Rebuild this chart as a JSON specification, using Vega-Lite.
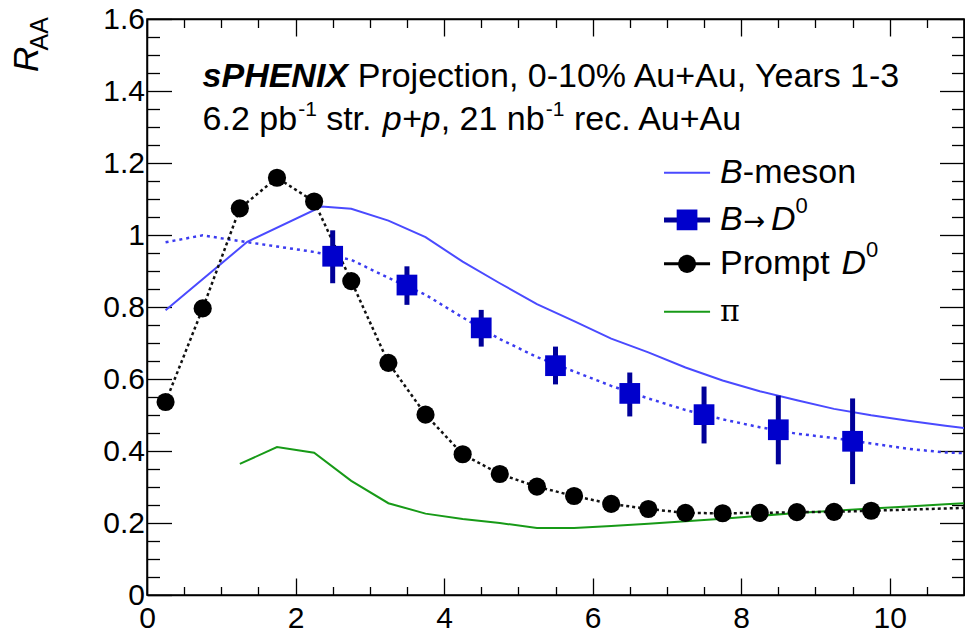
{
  "$schema": "https://vega.github.io/schema/vega-lite/v6.json",
  "width": 817,
  "height": 576,
  "autosize": {"type": "none"},
  "padding": {"left": 147, "top": 19, "right": 1, "bottom": 38},
  "background": "white",
  "config": {"view": {"stroke": "black", "strokeWidth": 1.5}, "font": "Liberation Sans"},
  "datasets": {
    "one": [{}],
    "prompt": [
      {"x": 0.25, "v": 0.536}, {"x": 0.75, "v": 0.796}, {"x": 1.25, "v": 1.074}, {"x": 1.75, "v": 1.159},
      {"x": 2.25, "v": 1.093}, {"x": 2.75, "v": 0.872}, {"x": 3.25, "v": 0.645}, {"x": 3.75, "v": 0.501},
      {"x": 4.25, "v": 0.391}, {"x": 4.75, "v": 0.336}, {"x": 5.25, "v": 0.301}, {"x": 5.75, "v": 0.275},
      {"x": 6.25, "v": 0.253}, {"x": 6.75, "v": 0.239}, {"x": 7.25, "v": 0.228}, {"x": 7.75, "v": 0.227},
      {"x": 8.25, "v": 0.228}, {"x": 8.75, "v": 0.23}, {"x": 9.25, "v": 0.231}, {"x": 9.75, "v": 0.234}
    ],
    "promptCurve": [
      {"x": 0.25, "v": 0.536}, {"x": 0.75, "v": 0.796}, {"x": 1.25, "v": 1.074}, {"x": 1.75, "v": 1.159},
      {"x": 2.25, "v": 1.093}, {"x": 2.75, "v": 0.872}, {"x": 3.25, "v": 0.645}, {"x": 3.75, "v": 0.501},
      {"x": 4.25, "v": 0.391}, {"x": 4.75, "v": 0.336}, {"x": 5.25, "v": 0.301}, {"x": 5.75, "v": 0.275},
      {"x": 6.25, "v": 0.253}, {"x": 6.75, "v": 0.239}, {"x": 7.25, "v": 0.228}, {"x": 7.75, "v": 0.227},
      {"x": 8.25, "v": 0.228}, {"x": 8.75, "v": 0.23}, {"x": 9.25, "v": 0.231}, {"x": 9.75, "v": 0.234},
      {"x": 11, "v": 0.242}
    ],
    "bd": [
      {"x": 2.5, "v": 0.941, "lo": 0.866, "hi": 1.013},
      {"x": 3.5, "v": 0.861, "lo": 0.806, "hi": 0.913},
      {"x": 4.5, "v": 0.742, "lo": 0.69, "hi": 0.792},
      {"x": 5.5, "v": 0.637, "lo": 0.585, "hi": 0.69},
      {"x": 6.5, "v": 0.56, "lo": 0.496, "hi": 0.618},
      {"x": 7.5, "v": 0.501, "lo": 0.421, "hi": 0.579},
      {"x": 8.5, "v": 0.459, "lo": 0.363, "hi": 0.554},
      {"x": 9.5, "v": 0.427, "lo": 0.308, "hi": 0.546}
    ],
    "bdCurve": [
      {"x": 0.25, "v": 0.98}, {"x": 0.75, "v": 0.999}, {"x": 1.25, "v": 0.983}, {"x": 1.75, "v": 0.968},
      {"x": 2.25, "v": 0.953}, {"x": 2.75, "v": 0.931}, {"x": 3.25, "v": 0.881}, {"x": 3.75, "v": 0.834},
      {"x": 4.25, "v": 0.771}, {"x": 4.75, "v": 0.711}, {"x": 5.25, "v": 0.661}, {"x": 5.75, "v": 0.621},
      {"x": 6.25, "v": 0.581}, {"x": 6.75, "v": 0.546}, {"x": 7.25, "v": 0.514}, {"x": 7.75, "v": 0.488},
      {"x": 8.25, "v": 0.466}, {"x": 8.75, "v": 0.448}, {"x": 9.25, "v": 0.436}, {"x": 9.75, "v": 0.421},
      {"x": 10.25, "v": 0.406}, {"x": 10.75, "v": 0.396}, {"x": 11, "v": 0.394}
    ],
    "bmeson": [
      {"x": 0.25, "v": 0.791}, {"x": 1.35, "v": 0.981}, {"x": 2.35, "v": 1.079}, {"x": 2.75, "v": 1.073},
      {"x": 3.25, "v": 1.04}, {"x": 3.75, "v": 0.994}, {"x": 4.25, "v": 0.926}, {"x": 4.75, "v": 0.866},
      {"x": 5.25, "v": 0.808}, {"x": 5.75, "v": 0.761}, {"x": 6.25, "v": 0.712}, {"x": 6.75, "v": 0.674},
      {"x": 7.25, "v": 0.632}, {"x": 7.75, "v": 0.596}, {"x": 8.25, "v": 0.566}, {"x": 8.75, "v": 0.541},
      {"x": 9.25, "v": 0.517}, {"x": 9.75, "v": 0.499}, {"x": 10.25, "v": 0.484}, {"x": 10.75, "v": 0.47},
      {"x": 11, "v": 0.464}
    ],
    "pion": [
      {"x": 1.25, "v": 0.364}, {"x": 1.75, "v": 0.411}, {"x": 2.25, "v": 0.395}, {"x": 2.75, "v": 0.317},
      {"x": 3.25, "v": 0.255}, {"x": 3.75, "v": 0.226}, {"x": 4.25, "v": 0.211}, {"x": 4.75, "v": 0.2},
      {"x": 5.25, "v": 0.186}, {"x": 5.75, "v": 0.186}, {"x": 6.25, "v": 0.192}, {"x": 6.75, "v": 0.198},
      {"x": 7.25, "v": 0.205}, {"x": 7.75, "v": 0.212}, {"x": 8.25, "v": 0.22}, {"x": 8.75, "v": 0.228},
      {"x": 9.25, "v": 0.234}, {"x": 9.75, "v": 0.24}, {"x": 10.25, "v": 0.246}, {"x": 10.75, "v": 0.252},
      {"x": 11, "v": 0.255}
    ]
  },
  "resolve": {"axis": {"x": "independent", "y": "independent"}},
  "layer": [
    {
      "data": {"name": "bmeson"},
      "mark": {"type": "line", "color": "#4a4aff", "strokeWidth": 2, "clip": true},
      "encoding": {
        "x": {"field": "x", "type": "quantitative", "scale": {"domain": [0, 11], "nice": false, "zero": false},
          "axis": {"orient": "bottom", "values": [0,0.5,1,1.5,2,2.5,3,3.5,4,4.5,5,5.5,6,6.5,7,7.5,8,8.5,9,9.5,10,10.5,11],
            "tickSize": {"condition": {"test": "datum.value % 2 === 0", "value": -17}, "value": -8.5},
            "labelExpr": "datum.value % 2 === 0 ? datum.label : ''", "format": "~g",
            "labelFont": "Liberation Sans", "labelFontSize": 30, "labelColor": "black", "labelPadding": 25,
            "labelOverlap": false, "labelFlush": false, "labelBound": false,
            "tickColor": "black", "tickWidth": 1.3, "domainColor": "black", "domainWidth": 1.5, "grid": false, "title": null}},
        "y": {"field": "v", "type": "quantitative", "scale": {"domain": [0, 1.6], "nice": false, "zero": false},
          "axis": {"orient": "left", "values": [0,0.05,0.1,0.15,0.2,0.25,0.3,0.35,0.4,0.45,0.5,0.55,0.6,0.65,0.7,0.75,0.8,0.85,0.9,0.95,1,1.05,1.1,1.15,1.2,1.25,1.3,1.35,1.4,1.45,1.5,1.55,1.6],
            "tickSize": {"condition": {"test": "abs(datum.value*5 - round(datum.value*5)) < 0.01", "value": -24.5}, "value": -12.5},
            "labelExpr": "abs(datum.value*5 - round(datum.value*5)) < 0.01 ? datum.label : ''", "format": "~g",
            "labelFont": "Liberation Sans", "labelFontSize": 30, "labelColor": "black", "labelPadding": 27,
            "labelOverlap": false, "labelFlush": false, "labelBound": false,
            "tickColor": "black", "tickWidth": 1.3, "domainColor": "black", "domainWidth": 1.5, "grid": false, "title": null}}
      }
    },
    {
      "data": {"name": "pion"},
      "mark": {"type": "line", "color": "#179a17", "strokeWidth": 2, "clip": true},
      "encoding": {
        "x": {"field": "x", "type": "quantitative",
          "axis": {"orient": "top", "values": [0,0.5,1,1.5,2,2.5,3,3.5,4,4.5,5,5.5,6,6.5,7,7.5,8,8.5,9,9.5,10,10.5,11],
            "tickSize": {"condition": {"test": "datum.value % 2 === 0", "value": -17}, "value": -8.5},
            "labels": false, "tickColor": "black", "tickWidth": 1.3, "domainColor": "black", "domainWidth": 1.5, "grid": false, "title": null}},
        "y": {"field": "v", "type": "quantitative",
          "axis": {"orient": "right", "values": [0,0.05,0.1,0.15,0.2,0.25,0.3,0.35,0.4,0.45,0.5,0.55,0.6,0.65,0.7,0.75,0.8,0.85,0.9,0.95,1,1.05,1.1,1.15,1.2,1.25,1.3,1.35,1.4,1.45,1.5,1.55,1.6],
            "tickSize": {"condition": {"test": "abs(datum.value*5 - round(datum.value*5)) < 0.01", "value": -24.5}, "value": -12.5},
            "labels": false, "tickColor": "black", "tickWidth": 1.3, "domainColor": "black", "domainWidth": 1.5, "grid": false, "title": null}}
      }
    },
    {
      "data": {"name": "bdCurve"},
      "mark": {"type": "line", "color": "#3b3bf0", "strokeWidth": 2.5, "strokeDash": [3, 4], "clip": true},
      "encoding": {"x": {"field": "x", "type": "quantitative", "axis": null}, "y": {"field": "v", "type": "quantitative", "axis": null}}
    },
    {
      "data": {"name": "promptCurve"},
      "mark": {"type": "line", "color": "#111111", "strokeWidth": 2.5, "strokeDash": [3, 3], "clip": true},
      "encoding": {"x": {"field": "x", "type": "quantitative", "axis": null}, "y": {"field": "v", "type": "quantitative", "axis": null}}
    },
    {
      "data": {"name": "bd"},
      "mark": {"type": "rule", "color": "#000099", "strokeWidth": 5},
      "encoding": {"x": {"field": "x", "type": "quantitative", "axis": null}, "y": {"field": "lo", "type": "quantitative", "axis": null}, "y2": {"field": "hi"}}
    },
    {
      "data": {"name": "bd"},
      "mark": {"type": "point", "shape": "square", "filled": true, "color": "#0000cc", "size": 430, "opacity": 1},
      "encoding": {"x": {"field": "x", "type": "quantitative", "axis": null}, "y": {"field": "v", "type": "quantitative", "axis": null}}
    },
    {
      "data": {"name": "prompt"},
      "mark": {"type": "point", "shape": "circle", "filled": true, "color": "black", "size": 330, "opacity": 1},
      "encoding": {"x": {"field": "x", "type": "quantitative", "axis": null}, "y": {"field": "v", "type": "quantitative", "axis": null}}
    },
    {
      "data": {"name": "one"},
      "mark": {"type": "text", "text": "sPHENIX", "font": "Liberation Sans", "fontSize": 34, "fontStyle": "italic", "fontWeight": "bold", "align": "left", "baseline": "alphabetic", "color": "black"},
      "encoding": {"x": {"datum": 0.748, "type": "quantitative", "axis": null}, "y": {"datum": 1.412, "type": "quantitative", "axis": null}}
    },
    {
      "data": {"name": "one"},
      "mark": {"type": "text", "text": "Projection, 0-10% Au+Au, Years 1-3", "font": "Liberation Sans", "fontSize": 34, "align": "left", "baseline": "alphabetic", "color": "black"},
      "encoding": {"x": {"datum": 2.837, "type": "quantitative", "axis": null}, "y": {"datum": 1.412, "type": "quantitative", "axis": null}}
    },
    {
      "data": {"name": "one"},
      "mark": {"type": "text", "text": "6.2 pb", "font": "Liberation Sans", "fontSize": 34, "align": "left", "baseline": "alphabetic", "color": "black"},
      "encoding": {"x": {"datum": 0.748, "type": "quantitative", "axis": null}, "y": {"datum": 1.292, "type": "quantitative", "axis": null}}
    },
    {
      "data": {"name": "one"},
      "mark": {"type": "text", "text": "-1", "font": "Liberation Sans", "fontSize": 21, "align": "left", "baseline": "alphabetic", "color": "black"},
      "encoding": {"x": {"datum": 2.035, "type": "quantitative", "axis": null}, "y": {"datum": 1.331, "type": "quantitative", "axis": null}}
    },
    {
      "data": {"name": "one"},
      "mark": {"type": "text", "text": "str.", "font": "Liberation Sans", "fontSize": 34, "align": "left", "baseline": "alphabetic", "color": "black"},
      "encoding": {"x": {"datum": 2.412, "type": "quantitative", "axis": null}, "y": {"datum": 1.292, "type": "quantitative", "axis": null}}
    },
    {
      "data": {"name": "one"},
      "mark": {"type": "text", "text": "p+p", "font": "Liberation Sans", "fontSize": 34, "fontStyle": "italic", "align": "left", "baseline": "alphabetic", "color": "black"},
      "encoding": {"x": {"datum": 3.174, "type": "quantitative", "axis": null}, "y": {"datum": 1.292, "type": "quantitative", "axis": null}}
    },
    {
      "data": {"name": "one"},
      "mark": {"type": "text", "text": ", 21 nb", "font": "Liberation Sans", "fontSize": 34, "align": "left", "baseline": "alphabetic", "color": "black"},
      "encoding": {"x": {"datum": 3.954, "type": "quantitative", "axis": null}, "y": {"datum": 1.292, "type": "quantitative", "axis": null}}
    },
    {
      "data": {"name": "one"},
      "mark": {"type": "text", "text": "-1", "font": "Liberation Sans", "fontSize": 21, "align": "left", "baseline": "alphabetic", "color": "black"},
      "encoding": {"x": {"datum": 5.369, "type": "quantitative", "axis": null}, "y": {"datum": 1.331, "type": "quantitative", "axis": null}}
    },
    {
      "data": {"name": "one"},
      "mark": {"type": "text", "text": "rec. Au+Au", "font": "Liberation Sans", "fontSize": 34, "align": "left", "baseline": "alphabetic", "color": "black"},
      "encoding": {"x": {"datum": 5.748, "type": "quantitative", "axis": null}, "y": {"datum": 1.292, "type": "quantitative", "axis": null}}
    },
    {
      "data": {"name": "one"},
      "mark": {"type": "text", "text": "R", "font": "Liberation Sans", "fontSize": 35, "fontStyle": "italic", "angle": 270, "align": "center", "baseline": "middle", "color": "black"},
      "encoding": {"x": {"datum": -1.617, "type": "quantitative", "axis": null}, "y": {"datum": 1.488, "type": "quantitative", "axis": null}}
    },
    {
      "data": {"name": "one"},
      "mark": {"type": "text", "text": "AA", "font": "Liberation Sans", "fontSize": 25, "angle": 270, "align": "center", "baseline": "middle", "color": "black"},
      "encoding": {"x": {"datum": -1.435, "type": "quantitative", "axis": null}, "y": {"datum": 1.559, "type": "quantitative", "axis": null}}
    },
    {
      "data": {"name": "one"},
      "mark": {"type": "rule", "color": "#4a4aff", "strokeWidth": 2},
      "encoding": {"x": {"datum": 6.961, "type": "quantitative", "axis": null}, "x2": {"datum": 7.581}, "y": {"datum": 1.173, "type": "quantitative", "axis": null}}
    },
    {
      "data": {"name": "one"},
      "mark": {"type": "rule", "color": "#000099", "strokeWidth": 5},
      "encoding": {"x": {"datum": 6.961, "type": "quantitative", "axis": null}, "x2": {"datum": 7.581}, "y": {"datum": 1.042, "type": "quantitative", "axis": null}}
    },
    {
      "data": {"name": "one"},
      "mark": {"type": "point", "shape": "square", "filled": true, "color": "#0000cc", "size": 430, "opacity": 1},
      "encoding": {"x": {"datum": 7.271, "type": "quantitative", "axis": null}, "y": {"datum": 1.042, "type": "quantitative", "axis": null}}
    },
    {
      "data": {"name": "one"},
      "mark": {"type": "rule", "color": "black", "strokeWidth": 3},
      "encoding": {"x": {"datum": 6.961, "type": "quantitative", "axis": null}, "x2": {"datum": 7.581}, "y": {"datum": 0.92, "type": "quantitative", "axis": null}}
    },
    {
      "data": {"name": "one"},
      "mark": {"type": "point", "shape": "circle", "filled": true, "color": "black", "size": 330, "opacity": 1},
      "encoding": {"x": {"datum": 7.271, "type": "quantitative", "axis": null}, "y": {"datum": 0.92, "type": "quantitative", "axis": null}}
    },
    {
      "data": {"name": "one"},
      "mark": {"type": "rule", "color": "#179a17", "strokeWidth": 2},
      "encoding": {"x": {"datum": 6.961, "type": "quantitative", "axis": null}, "x2": {"datum": 7.581}, "y": {"datum": 0.787, "type": "quantitative", "axis": null}}
    },
    {
      "data": {"name": "one"},
      "mark": {"type": "text", "text": "B", "font": "Liberation Sans", "fontSize": 34, "fontStyle": "italic", "align": "left", "baseline": "middle", "color": "black"},
      "encoding": {"x": {"datum": 7.716, "type": "quantitative", "axis": null}, "y": {"datum": 1.173, "type": "quantitative", "axis": null}}
    },
    {
      "data": {"name": "one"},
      "mark": {"type": "text", "text": "-meson", "font": "Liberation Sans", "fontSize": 34, "align": "left", "baseline": "middle", "color": "black"},
      "encoding": {"x": {"datum": 8.022, "type": "quantitative", "axis": null}, "y": {"datum": 1.173, "type": "quantitative", "axis": null}}
    },
    {
      "data": {"name": "one"},
      "mark": {"type": "text", "text": "B", "font": "Liberation Sans", "fontSize": 34, "fontStyle": "italic", "align": "left", "baseline": "middle", "color": "black"},
      "encoding": {"x": {"datum": 7.716, "type": "quantitative", "axis": null}, "y": {"datum": 1.042, "type": "quantitative", "axis": null}}
    },
    {
      "data": {"name": "one"},
      "mark": {"type": "text", "text": "→", "font": "DejaVu Sans", "fontSize": 26, "align": "left", "baseline": "middle", "color": "black"},
      "encoding": {"x": {"datum": 8.03, "type": "quantitative", "axis": null}, "y": {"datum": 1.037, "type": "quantitative", "axis": null}}
    },
    {
      "data": {"name": "one"},
      "mark": {"type": "text", "text": "D", "font": "Liberation Sans", "fontSize": 34, "fontStyle": "italic", "align": "left", "baseline": "middle", "color": "black"},
      "encoding": {"x": {"datum": 8.4, "type": "quantitative", "axis": null}, "y": {"datum": 1.042, "type": "quantitative", "axis": null}}
    },
    {
      "data": {"name": "one"},
      "mark": {"type": "text", "text": "0", "font": "Liberation Sans", "fontSize": 22, "align": "left", "baseline": "middle", "color": "black"},
      "encoding": {"x": {"datum": 8.73, "type": "quantitative", "axis": null}, "y": {"datum": 1.08, "type": "quantitative", "axis": null}}
    },
    {
      "data": {"name": "one"},
      "mark": {"type": "text", "text": "Prompt", "font": "Liberation Sans", "fontSize": 34, "align": "left", "baseline": "middle", "color": "black"},
      "encoding": {"x": {"datum": 7.716, "type": "quantitative", "axis": null}, "y": {"datum": 0.92, "type": "quantitative", "axis": null}}
    },
    {
      "data": {"name": "one"},
      "mark": {"type": "text", "text": "D", "font": "Liberation Sans", "fontSize": 34, "fontStyle": "italic", "align": "left", "baseline": "middle", "color": "black"},
      "encoding": {"x": {"datum": 9.35, "type": "quantitative", "axis": null}, "y": {"datum": 0.92, "type": "quantitative", "axis": null}}
    },
    {
      "data": {"name": "one"},
      "mark": {"type": "text", "text": "0", "font": "Liberation Sans", "fontSize": 22, "align": "left", "baseline": "middle", "color": "black"},
      "encoding": {"x": {"datum": 9.68, "type": "quantitative", "axis": null}, "y": {"datum": 0.958, "type": "quantitative", "axis": null}}
    },
    {
      "data": {"name": "one"},
      "mark": {"type": "text", "text": "π", "font": "DejaVu Serif", "fontSize": 30, "align": "left", "baseline": "middle", "color": "black"},
      "encoding": {"x": {"datum": 7.716, "type": "quantitative", "axis": null}, "y": {"datum": 0.787, "type": "quantitative", "axis": null}}
    }
  ]
}
